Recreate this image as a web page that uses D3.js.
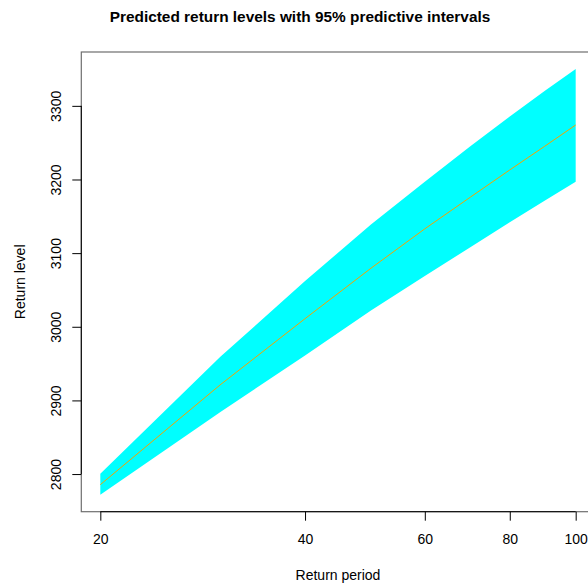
<!DOCTYPE html>
<html>
<head>
<meta charset="utf-8">
<script src="https://cdn.jsdelivr.net/npm/d3@7"></script>
<style>
  html, body { margin: 0; padding: 0; background: #fff; }
  svg { display: block; }
  text { font-family: "Liberation Sans", Arial, Helvetica, sans-serif; fill: #000; }
</style>
</head>
<body>
<svg id="chart" width="588" height="585"></svg>
<script>
// Return periods (years) and predicted return levels
const periods = [20, 30, 40, 50, 60, 70, 80, 90, 100];
const lowerPI = [2772, 2884, 2961, 3022, 3069, 3108, 3142, 3171, 3197];
const median  = [2785.6, 2921, 3011, 3079.5, 3133, 3176, 3213, 3245, 3274];
const upperPI = [2800.5, 2959, 3062, 3139, 3197, 3245, 3285.5, 3320, 3350];

const xTicks = [20, 40, 60, 80, 100];
const yTicks = [2800, 2900, 3000, 3100, 3200, 3300];

const titleText = "Predicted return levels with 95% predictive intervals";
const xLabel = "Return period";
const yLabel = "Return level";

const svg = d3.select("#chart");

// plotting region (extends past the right edge of the window)
const plot = { left: 81.3, right: 594.7, top: 52, bottom: 511.7 };

// 4% padding on each side, as in base graphics
const lx = d3.extent(periods).map(Math.log);
const padX = (lx[1] - lx[0]) * 0.04;
const x = d3.scaleLog()
  .domain([Math.exp(lx[0] - padX), Math.exp(lx[1] + padX)])
  .range([plot.left, plot.right]);

const yMin = d3.min(lowerPI), yMax = d3.max(upperPI);
const padY = (yMax - yMin) * 0.04;
const y = d3.scaleLinear()
  .domain([yMin - padY, yMax + padY])
  .range([plot.bottom, plot.top]);

const rows = periods.map((p, i) => ({ p, lo: lowerPI[i], mid: median[i], hi: upperPI[i] }));

// predictive interval band
svg.append("path")
  .datum(rows)
  .attr("fill", "#00ffff")
  .attr("d", d3.area()
    .x(d => x(d.p))
    .y0(d => y(d.lo))
    .y1(d => y(d.hi)));

// predicted return level
svg.append("path")
  .datum(rows)
  .attr("fill", "none")
  .attr("stroke", "#f5a300")
  .attr("stroke-width", 1)
  .attr("d", d3.line()
    .x(d => x(d.p))
    .y(d => y(d.mid)));

// frame around the plotting region
svg.append("rect")
  .attr("x", plot.left)
  .attr("y", plot.top)
  .attr("width", plot.right - plot.left)
  .attr("height", plot.bottom - plot.top)
  .attr("fill", "none")
  .attr("stroke", "#6e6e6e")
  .attr("stroke-width", 1.2);

// x axis
const xAxis = d3.axisBottom(x)
  .tickValues(xTicks)
  .tickFormat(d3.format("d"))
  .tickSize(9)
  .tickSizeOuter(0)
  .tickPadding(13);
const gx = svg.append("g")
  .attr("transform", `translate(0,${plot.bottom})`)
  .call(xAxis);
gx.select(".domain").remove();
gx.append("line")
  .attr("x1", x(xTicks[0])).attr("x2", x(xTicks[xTicks.length - 1]))
  .attr("stroke", "#000");
gx.selectAll(".tick line").attr("stroke", "#000");
gx.selectAll(".tick text")
  .attr("font-size", "14px")
  .attr("fill", "#000")
  .style("font-family", "'Liberation Sans', Arial, sans-serif");

// y axis with vertical labels
const yAxis = d3.axisLeft(y)
  .tickValues(yTicks)
  .tickFormat(d3.format("d"))
  .tickSize(9)
  .tickSizeOuter(0);
const gy = svg.append("g")
  .attr("transform", `translate(${plot.left},0)`)
  .call(yAxis);
gy.select(".domain").remove();
gy.append("line")
  .attr("y1", y(yTicks[0])).attr("y2", y(yTicks[yTicks.length - 1]))
  .attr("stroke", "#000");
gy.selectAll(".tick line").attr("stroke", "#000");
gy.selectAll(".tick text")
  .attr("x", null).attr("dy", null)
  .attr("transform", "translate(-20.5,0) rotate(-90)")
  .attr("text-anchor", "middle")
  .attr("font-size", "14px")
  .attr("fill", "#000")
  .style("font-family", "'Liberation Sans', Arial, sans-serif");

// titles
svg.append("text")
  .attr("x", 300).attr("y", 22)
  .attr("text-anchor", "middle")
  .attr("font-size", "15.4px")
  .attr("font-weight", "bold")
  .text(titleText);

svg.append("text")
  .attr("x", (plot.left + plot.right) / 2).attr("y", 580)
  .attr("text-anchor", "middle")
  .attr("font-size", "14px")
  .text(xLabel);

svg.append("text")
  .attr("transform", `translate(25,${(plot.top + plot.bottom) / 2}) rotate(-90)`)
  .attr("text-anchor", "middle")
  .attr("font-size", "14px")
  .text(yLabel);
</script>
</body>
</html>
